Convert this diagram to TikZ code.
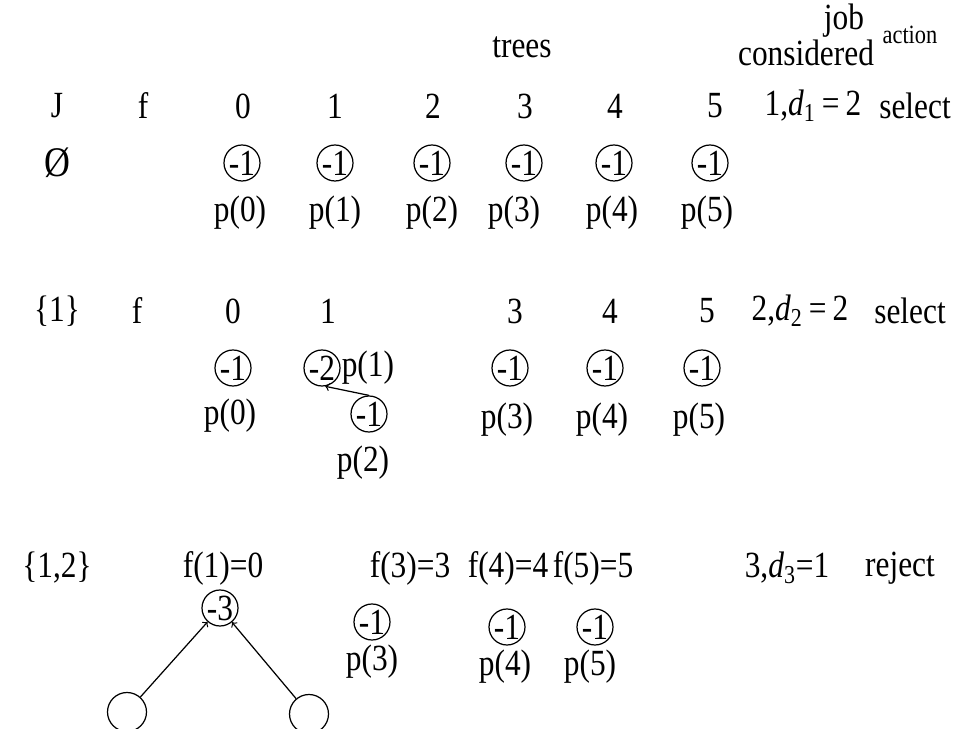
\documentclass[tikz,border=0pt]{standalone}
\usepackage{fontspec}
\setmainfont{Liberation Serif}[FakeStretch=0.85]
\usetikzlibrary{positioning}
\begin{document}
\begin{tikzpicture}[x=0.02cm, y=-0.02cm, font=\fontsize{21}{24}\selectfont, line width=0.7pt,
    tree/.style={draw, circle, inner sep=0pt, minimum size=0.72cm},
    leaf/.style={draw, circle, inner sep=0pt, minimum size=0.78cm}]
    \useasboundingbox (0,0) rectangle (954,729);

    % heading
    \node (trees) at (522,47) {trees};
    \node (job) [inner sep=0pt] at (844,21) {job};
    \node (considered) [inner sep=0pt] at (806,53) {considered};
    \node (action) [font=\fontsize{15}{17}\selectfont, anchor=west, inner sep=0pt] at (882,35) {action};

    % first step
    \node (hJ) at (57,106) {J};
    \node (hf) at (143,106) {f};
    \node (h0) at (243,106) {0};
    \node (h1) at (335,106) {1};
    \node (h2) at (433,106) {2};
    \node (h3) at (525,106) {3};
    \node (h4) at (615,106) {4};
    \node (h5) at (715,106) {5};
    \node (job1) at (813,106) {1,\textit{d}\textsubscript{1}\,=\,2};
    \node (act1) at (915,106) {select};

    \node (empty) [font=\fontsize{24}{26}\selectfont] at (57,163) {\O};
    \node (a0) [tree] at (242,163) {-1};
    \node (a1) [tree] at (335,163) {-1};
    \node (a2) [tree] at (432,163) {-1};
    \node (a3) [tree] at (524,163) {-1};
    \node (a4) [tree] at (614,163) {-1};
    \node (a5) [tree] at (710,163) {-1};
    \node (pa0) at (240,213) {p(0)};
    \node (pa1) at (335,213) {p(1)};
    \node (pa2) at (432,213) {p(2)};
    \node (pa3) at (514,213) {p(3)};
    \node (pa4) at (612,213) {p(4)};
    \node (pa5) at (707,213) {p(5)};

    % second step
    \node (gJ) at (57,311) {\{1\}};
    \node (gf) at (137,311) {f};
    \node (g0) at (233,311) {0};
    \node (g1) at (328,311) {1};
    \node (g3) at (515,311) {3};
    \node (g4) at (610,311) {4};
    \node (g5) at (707,311) {5};
    \node (job2) at (800,311) {2,\textit{d}\textsubscript{2}\,=\,2};
    \node (act2) at (910,311) {select};

    \node (b0) [tree] at (233,368) {-1};
    \node (b1) [tree] at (322,368) {-2};
    \node (pb1) [right=-3pt of b1] {p(1)};
    \node (b2) [tree] at (369,414) {-1};
    \node (b3) [tree] at (510,368) {-1};
    \node (b4) [tree] at (605,368) {-1};
    \node (b5) [tree] at (702,368) {-1};
    \node (pb0) at (230,416) {p(0)};
    \node (pb2) at (363,463) {p(2)};
    \node (pb3) at (507,420) {p(3)};
    \node (pb4) at (602,420) {p(4)};
    \node (pb5) at (699,420) {p(5)};

    \draw[->] (b2.north) -- (b1.280);

    % third step
    \node (kJ) at (57,568) {\{1,2\}};
    \node (kf1) at (223,568) {f(1)=0};
    \node (kf3) at (410,568) {f(3)=3};
    \node (kf4) at (508,568) {f(4)=4};
    \node (kf5) at (593,568) {f(5)=5};
    \node (job3) at (787,568) {3,\textit{d}\textsubscript{3}=1};
    \node (act3) at (900,568) {reject};

    \node (c1) [tree] at (220,608) {-3};
    \node (left) [leaf] at (127,712) {};
    \node (right) [leaf] at (309,714) {};
    \node (c3) [tree] at (372,622) {-1};
    \node (c4) [tree] at (507,627) {-1};
    \node (c5) [tree] at (595,627) {-1};
    \node (pc3) at (372,662) {p(3)};
    \node (pc4) at (505,667) {p(4)};
    \node (pc5) at (590,667) {p(5)};

    \draw[->] (left) -- (c1);
    \draw[->] (right) -- (c1);
\end{tikzpicture}
\end{document}
